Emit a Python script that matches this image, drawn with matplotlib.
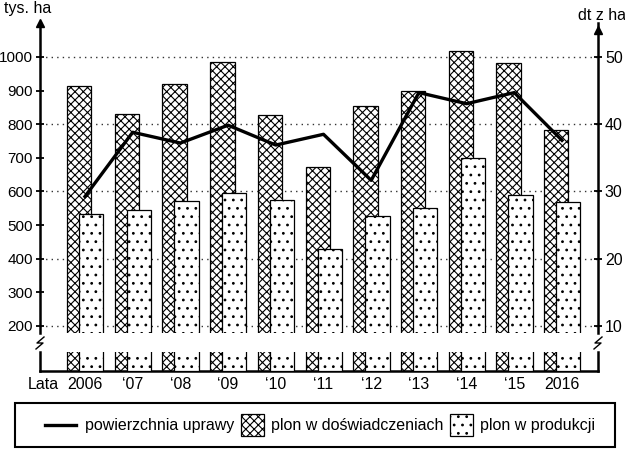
import matplotlib

matplotlib.use("Agg")
import matplotlib.pyplot as plt
import numpy as np
from matplotlib.lines import Line2D
from matplotlib.patches import Patch, Rectangle
from matplotlib.legend_handler import HandlerPatch, HandlerLine2D

# data
years = ["2006", "\u201807", "\u201808", "\u201809", "\u201810", "\u201811",
         "\u201812", "\u201813", "\u201814", "\u201815", "2016"]
area = [585, 776, 744, 797, 738, 770, 633, 894, 861, 894, 752]  # tys. ha
yield_exp = [45.7, 41.5, 46.0, 49.3, 41.3, 33.6, 42.7, 45.0, 50.9, 49.1, 39.1]  # dt z ha
yield_prod = [26.6, 27.2, 28.6, 29.8, 28.7, 21.5, 26.3, 27.5, 34.9, 29.5, 28.5]
left_ticks = [200, 300, 400, 500, 600, 700, 800, 900, 1000]
right_ticks = [10, 20, 30, 40, 50]

plt.rcParams["font.family"] = ["Liberation Sans", "DejaVu Sans"]
plt.rcParams["font.size"] = 11.5
plt.rcParams["hatch.linewidth"] = 0.8
plt.rcParams["hatch.color"] = "black"

W, H = 625, 449
fig = plt.figure(figsize=(W / 100, H / 100), dpi=100)


def fbox(x0, y0, x1, y1):
    # pixel box (top-left origin) -> figure fraction rect
    return [x0 / W, 1 - y1 / H, (x1 - x0) / W, (y1 - y0) / H]


ax = fig.add_axes(fbox(40, 23, 598, 333))
ax2 = ax.twinx()
axb = fig.add_axes(fbox(40, 352, 598, 370.5))

x = np.arange(len(years))
xlim = (-0.943, 10.755)
bw = 0.51
ylo, yhi = 179, 1101
HATCH_EXP = "xxxx"
HATCH_PROD = ".."

for a in (ax2, axb):
    a.bar(x - 0.12, yield_exp, bw, facecolor="white", edgecolor="black",
          linewidth=0.9, hatch=HATCH_EXP, zorder=2)
    a.bar(x + 0.13, yield_prod, bw, facecolor="white", edgecolor="black",
          linewidth=0.9, hatch=HATCH_PROD, zorder=3)

ax.plot(x, area, color="black", linewidth=2.4, zorder=5)

ax.set_xlim(*xlim)
ax.set_ylim(ylo, yhi)
ax2.set_ylim(ylo / 20, yhi / 20)
ax.set_zorder(ax2.get_zorder() + 1)
ax.patch.set_visible(False)

ax.set_yticks(left_ticks)
ax2.set_yticks(right_ticks)
ax2.set_axisbelow(True)
ax2.yaxis.grid(True, color="#333333", linestyle=(0, (1, 3)), linewidth=1.0)

ax.tick_params(axis="y", direction="inout", length=6, width=1.3, pad=2,
               labelsize=11)
ax2.tick_params(axis="y", direction="inout", length=6, width=1.3, pad=2,
                labelsize=11.5)
ax.tick_params(axis="x", bottom=False, labelbottom=False)

for s in ["top", "bottom", "right"]:
    ax.spines[s].set_visible(False)
for s in ["top", "bottom", "left"]:
    ax2.spines[s].set_visible(False)
ax.spines["left"].set_linewidth(1.8)
ax2.spines["right"].set_linewidth(1.8)

# stub below the axis break
axb.set_xlim(*xlim)
axb.set_ylim(0, 8)
axb.set_yticks([])
axb.spines["top"].set_visible(False)
for s in ["left", "right", "bottom"]:
    axb.spines[s].set_linewidth(1.8)
axb.set_xticks(np.r_[-0.88, x])
axb.set_xticklabels(["Lata"] + years)
axb.tick_params(axis="x", length=0, pad=5)

# arrows on top of the vertical axes
ax.plot([0], [1], marker="^", markersize=6, color="black",
        transform=ax.transAxes, clip_on=False)
ax2.plot([1], [0.976], marker="^", markersize=6, color="black",
         transform=ax2.transAxes, clip_on=False)

# break marks
for px in (40, 598):
    zx = np.array([px + 4, px - 3, px + 3, px - 4])
    zy = np.array([337, 343, 343, 349])
    fig.add_artist(Line2D(zx / W, 1 - zy / H, color="black", linewidth=1.0,
                          transform=fig.transFigure))

fig.text(4 / W, 1 - 9 / H, "tys. ha", ha="left", va="center")
fig.text(578 / W, 1 - 16 / H, "dt z ha", ha="left", va="center")


def make_rect(legend, orig_handle, xdescent, ydescent, width, height, fontsize):
    return Rectangle((-xdescent, -ydescent), width, height)


class LongLine(HandlerLine2D):
    # the line sample in the reference is longer than the patch boxes
    def create_artists(self, legend, orig_handle, xdescent, ydescent,
                       width, height, fontsize, trans):
        ln = Line2D([-xdescent - 7, -xdescent + width - 1.5],
                    [height / 2 - ydescent] * 2, color="black", linewidth=2.4)
        ln.set_transform(trans)
        return [ln]


line_h = Line2D([], [], color="black", linewidth=2.4)
handles = [
    line_h,
    Patch(facecolor="white", edgecolor="black", hatch=HATCH_EXP, linewidth=0.9),
    Patch(facecolor="white", edgecolor="black", hatch=HATCH_PROD, linewidth=0.9),
]
labels = ["powierzchnia uprawy", "plon w do\u015bwiadczeniach", "plon w produkcji"]
leg = fig.legend(handles, labels, ncol=3, loc="center",
                 bbox_to_anchor=(325 / W, 1 - 425 / H),
                 handlelength=1.45, handleheight=1.75, handletextpad=0.4,
                 columnspacing=0.45, frameon=False,
                 borderpad=0.45, borderaxespad=0,
                 handler_map={Patch: HandlerPatch(patch_func=make_rect),
                              line_h: LongLine()})

# legend frame as in the reference (wider than the legend content)
fig.add_artist(Rectangle((15 / W, 1 - 447 / H), 600 / W, 44 / H, fill=False,
                         edgecolor="black", linewidth=1.5,
                         transform=fig.transFigure))

fig.savefig("out.png", dpi=100)
